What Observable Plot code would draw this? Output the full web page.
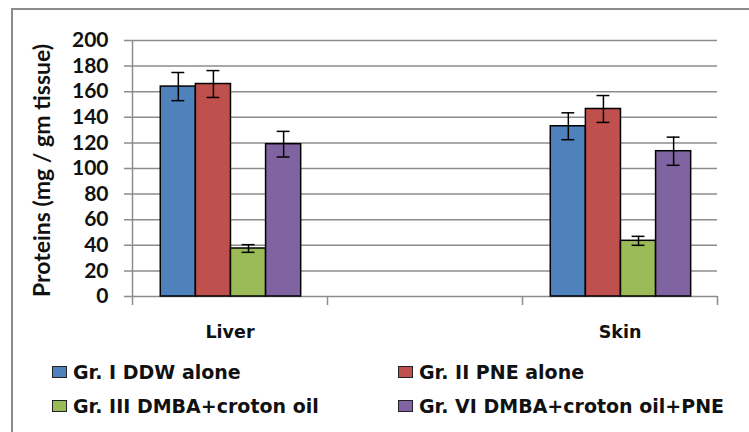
<!DOCTYPE html>
<html>
<head>
<meta charset="utf-8">
<script src="https://cdn.jsdelivr.net/npm/d3@7"></script>
<script src="https://cdn.jsdelivr.net/npm/@observablehq/plot@0.6"></script>
<style>
  html, body { margin: 0; padding: 0; background: #fff; overflow: hidden; }
  body { width: 749px; height: 432px; position: relative; font-family: "DejaVu Sans", sans-serif; }
  #frame { position: absolute; left: 11px; top: 8px; width: 800px; height: 500px; border: 2px solid #8c8c8c; box-sizing: border-box; }
  #chart { position: absolute; left: 0; top: 0; }
  #legend { position: absolute; left: 52px; top: 361px; display: grid; grid-template-columns: 346px 330px; row-gap: 11.5px; font-weight: bold; font-size: 19px; line-height: 22px; color: #111; }
  .item { display: flex; align-items: center; height: 22px; white-space: nowrap; }
  .sw { width: 13px; height: 10px; border: 1px solid #222; margin-right: 6px; flex: none; }
</style>
</head>
<body>
<div id="frame"></div>
<div id="chart"></div>
<div id="legend"></div>
<script>
const categories = ["Liver", "", "Skin"];
const groups = ["Gr. I DDW alone", "Gr. II PNE alone", "Gr. III DMBA+croton oil", "Gr. VI DMBA+croton oil+PNE"];
const colors = ["#4F81BD", "#C0504D", "#9BBB59", "#8064A2"];
const liverMeans = [164, 166, 37.5, 119];
const liverErrors = [11, 10.5, 3, 10];
const skinMeans = [133, 146.5, 43.5, 113.5];
const skinErrors = [10.5, 10.5, 3.5, 11];
const yTicks = [0, 20, 40, 60, 80, 100, 120, 140, 160, 180, 200];
const yLabel = "Proteins (mg / gm tissue)";

const barW = 0.18;     // bar width in category units
const capHalf = 0.033; // error cap half width in category units

const rows = [];
groups.forEach((g, gi) => {
  rows.push({cat: "Liver", ci: categories.indexOf("Liver"), gi, group: g, value: liverMeans[gi], err: liverErrors[gi]});
  rows.push({cat: "Skin", ci: categories.indexOf("Skin"), gi, group: g, value: skinMeans[gi], err: skinErrors[gi]});
});
const left = d => d.ci + (d.gi - 2) * barW + 0.005;
const mid = d => left(d) + barW / 2;
const boundaries = d3.range(categories.length + 1).map(i => i - 0.5);

const chart = Plot.plot({
  width: 749,
  height: 350,
  marginTop: 40,
  marginBottom: 54,
  marginLeft: 132,
  marginRight: 32,
  style: {fontFamily: "Lato, 'Liberation Sans', sans-serif", background: "transparent", color: "#111"},
  x: {type: "linear", domain: [-0.5, categories.length - 0.5], axis: null},
  y: {domain: [0, 200], ticks: yTicks, tickSize: 0, tickPadding: 24, tickFormat: d => d, label: null, fontSize: 21},
  color: {domain: groups, range: colors},
  marks: [
    Plot.ruleY(yTicks, {y: d => d, insetLeft: -8, stroke: "#8c8c8c", strokeWidth: 1.5}),
    Plot.ruleX([boundaries[0]], {x: d => d, y1: 0, y2: 200, stroke: "#8c8c8c", strokeWidth: 1.5}),
    Plot.ruleX(boundaries, {x: d => d, y1: 0, y2: 0, insetBottom: -9, stroke: "#8c8c8c", strokeWidth: 1.5}),
    Plot.rectY(rows, {x1: left, x2: d => left(d) + barW, y1: 0, y2: "value", fill: "group", stroke: "#000", strokeWidth: 1.5}),
    Plot.ruleX(rows, {x: mid, y1: d => d.value - d.err, y2: d => d.value + d.err, stroke: "#000", strokeWidth: 1.5}),
    Plot.ruleY(rows, {y: d => d.value + d.err, x1: d => mid(d) - capHalf, x2: d => mid(d) + capHalf, stroke: "#000", strokeWidth: 1.5}),
    Plot.ruleY(rows, {y: d => d.value - d.err, x1: d => mid(d) - capHalf, x2: d => mid(d) + capHalf, stroke: "#000", strokeWidth: 1.5}),
    Plot.text(categories, {x: (d, i) => i, y: 0, text: d => d, dy: 36, fontSize: 17.5, fontWeight: "bold", fontFamily: "DejaVu Sans", fill: "#111"}),
    Plot.text([yLabel], {frameAnchor: "left", textAnchor: "middle", rotate: -90, dx: -90, dy: 2, text: d => d, fontSize: 23, fontWeight: "bold", fill: "#111"})
  ]
});
const yAxis = chart.querySelector('g[aria-label="y-axis"]') || chart.querySelector('g[aria-label="y-axis tick label"]');
if (yAxis) { yAxis.setAttribute("font-weight", "bold"); yAxis.setAttribute("font-size", "21"); }
chart.querySelectorAll('g[aria-label="y-axis tick label"]').forEach(g => { g.setAttribute("font-weight", "bold"); g.setAttribute("font-size", "21"); });
document.getElementById("chart").appendChild(chart);

const legend = document.getElementById("legend");
[0, 1, 2, 3].forEach(i => {
  const item = document.createElement("div");
  item.className = "item";
  const sw = document.createElement("span");
  sw.className = "sw";
  sw.style.background = colors[i];
  const label = document.createElement("span");
  label.textContent = groups[i];
  item.appendChild(sw);
  item.appendChild(label);
  legend.appendChild(item);
});
</script>
</body>
</html>
